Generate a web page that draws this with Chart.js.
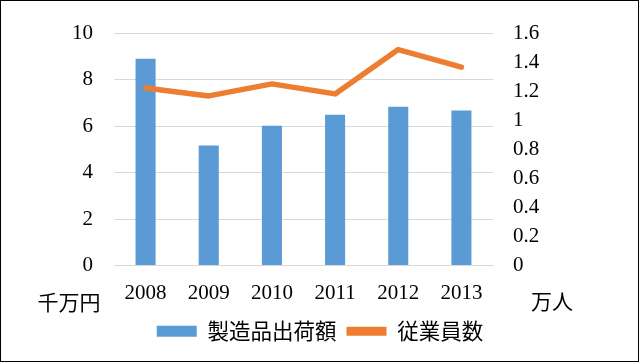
<!DOCTYPE html>
<html lang="ja">
<head>
<meta charset="UTF-8">
<title>製造品出荷額と従業員数</title>
<script src="https://cdn.jsdelivr.net/npm/chart.js@4.4.0/dist/chart.umd.min.js"></script>
<style>
  html, body { margin: 0; padding: 0; background: #fff; }
  #wrap { width: 640px; height: 363px; }
</style>
</head>
<body>
<div id="wrap"><canvas id="myChart" width="640" height="363"></canvas></div>
<script>
    // data
    const years = ['2008', '2009', '2010', '2011', '2012', '2013'];
    const shipments = [8.92, 5.17, 6.03, 6.5, 6.85, 6.68];      // 千万円
    const employees = [1.225, 1.17, 1.253, 1.184, 1.49, 1.368];  // 万人
    const leftTicks = ['0', '2', '4', '6', '8', '10'];
    const rightTicks = ['0', '0.2', '0.4', '0.6', '0.8', '1', '1.2', '1.4', '1.6'];

    const serif = "'Liberation Serif', 'DejaVu Serif', serif";
    const jp = "'Noto Sans CJK JP', 'Noto Sans', sans-serif";
    const gridColor = '#d9d9d9';

    // unit captions + outer frame
    const extras = {
        id: 'extras',
        afterDraw(chart) {
            const ctx = chart.ctx;
            ctx.save();
            ctx.fillStyle = '#000';
            ctx.font = '21px ' + jp;
            ctx.textAlign = 'center';
            ctx.textBaseline = 'middle';
            ctx.fillText('千万円', 69, 302);
            ctx.fillText('万人', 552, 301);
            ctx.strokeStyle = '#000';
            ctx.lineWidth = 1;
            ctx.strokeRect(0.5, 0.5, 638, 361);
            ctx.restore();
        }
    };

    const ctx = document.getElementById('myChart').getContext('2d');
    new Chart(ctx, {
        data: {
            labels: years,
            datasets: [
                {
                    type: 'line',
                    label: '従業員数',
                    data: employees,
                    yAxisID: 'y2',
                    borderColor: '#ed7d31',
                    backgroundColor: '#ed7d31',
                    borderWidth: 5.5,
                    borderCapStyle: 'round',
                    borderJoinStyle: 'round',
                    pointRadius: 0,
                    pointStyle: 'line',
                    tension: 0,
                    order: 0
                },
                {
                    type: 'bar',
                    label: '製造品出荷額',
                    data: shipments,
                    yAxisID: 'y',
                    backgroundColor: '#5b9bd5',
                    pointStyle: 'rect',
                    barPercentage: 0.635,
                    categoryPercentage: 0.5,
                    order: 1
                }
            ]
        },
        options: {
            responsive: false,
            animation: false,
            layout: { padding: { top: 22, left: 0, right: 0, bottom: 11 } },
            plugins: {
                tooltip: { enabled: false },
                legend: {
                    position: 'bottom',
                    reverse: true,
                    labels: {
                        usePointStyle: true,
                        pointStyleWidth: 40,
                        boxHeight: 11,
                        padding: 10,
                        color: '#000',
                        font: { family: jp, size: 21.5 },
                        generateLabels(chart) {
                            const items = Chart.defaults.plugins.legend.labels.generateLabels(chart);
                            items.forEach(it => { if (it.pointStyle === 'line') it.lineWidth = 9; });
                            return items;
                        }
                    }
                }
            },
            scales: {
                x: {
                    grid: { display: false, drawTicks: false },
                    border: { display: true, color: gridColor },
                    ticks: { color: '#000', padding: 15, font: { family: serif, size: 21 } },
                    afterFit(scale) { scale.height = 45; }
                },
                y: {
                    position: 'left',
                    min: 0, max: 10,
                    grid: { color: gridColor, drawTicks: false },
                    border: { display: false },
                    ticks: {
                        stepSize: 2,
                        padding: 21,
                        color: '#000',
                        font: { family: serif, size: 21 },
                        callback: (v, i) => leftTicks[i]
                    },
                    afterFit(scale) { scale.width = 114; }
                },
                y2: {
                    position: 'right',
                    min: 0, max: 1.6,
                    grid: { display: false, drawTicks: false },
                    border: { display: false },
                    ticks: {
                        stepSize: 0.2,
                        padding: 20,
                        color: '#000',
                        font: { family: serif, size: 21 },
                        callback: (v, i) => rightTicks[i]
                    },
                    afterFit(scale) { scale.width = 147; }
                }
            }
        },
        plugins: [extras]
    });
</script>
</body>
</html>
